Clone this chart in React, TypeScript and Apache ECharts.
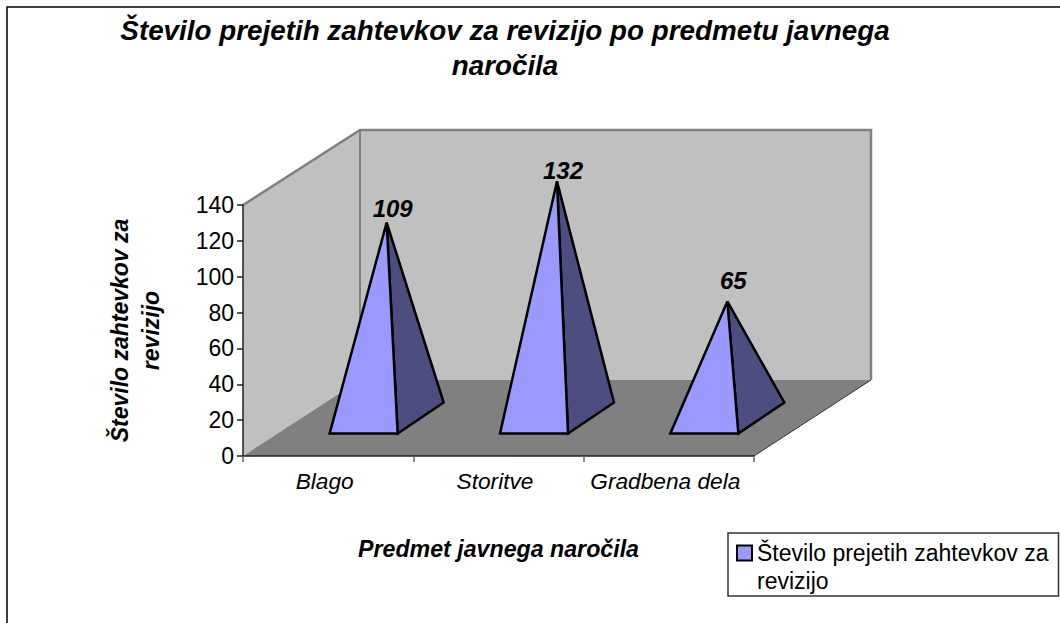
import React, { useEffect, useRef } from "react";
import * as echarts from "echarts";

const categories = ["Blago", "Storitve", "Gradbena dela"];
const requestCounts = [109, 132, 65];
const yTicks = [0, 140];
const titleText = "Število prejetih zahtevkov za revizijo po predmetu javnega\nnaročila";
const seriesName = "Število prejetih zahtevkov za\nrevizijo";
const yName = "Število zahtevkov za\nrevizijo";
const xName = "Predmet javnega naročila";

const FONT = "'Liberation Sans', Arial, sans-serif";
const DEPTH_X = 117;
const DEPTH_Y = 76;

function wallsItem(_p: any, api: any) {
  const o = api.coord([0, 0]);
  const band = api.size([1, 0])[0];
  const top = api.coord([0, yTicks[1]])[1];
  const x0 = o[0] - band / 2;
  const x1 = x0 + band * categories.length;
  const y0 = o[1];
  const y1 = top + 1;
  const dx = DEPTH_X;
  const dy = DEPTH_Y;
  const edge = { stroke: "#808080", lineWidth: 2.5, fill: "none" };
  return {
    type: "group",
    children: [
      { type: "polygon", shape: { points: [[x0 + dx, y1 - dy], [x1 + dx, y1 - dy], [x1 + dx, y0 - dy], [x0 + dx, y0 - dy]] }, style: { fill: "#c0c0c0" } },
      { type: "polygon", shape: { points: [[x0, y0], [x0, top], [x0 + dx, y1 - dy], [x0 + dx, y0 - dy]] }, style: { fill: "#c0c0c0" } },
      { type: "polygon", shape: { points: [[x0, y0], [x1, y0], [x1 + dx, y0 - dy], [x0 + dx, y0 - dy]] }, style: { fill: "#808080" } },
      { type: "polyline", shape: { points: [[x0, top], [x0 + dx, y1 - dy], [x1 + dx, y1 - dy], [x1 + dx, y0 - dy]] }, style: edge },
      { type: "line", shape: { x1: x0 + dx, y1: y1 - dy, x2: x0 + dx, y2: y0 - dy }, style: { stroke: "#808080", lineWidth: 2 } },
      { type: "line", shape: { x1: x1, y1: y0, x2: x1 + dx, y2: y0 - dy }, style: { stroke: "#333", lineWidth: 1 } },
    ],
  };
}

function pyramidItem(_p: any, api: any) {
  const idx = api.value(0);
  const v = api.value(1);
  const c0 = api.coord([idx, 0]);
  const cv = api.coord([idx, v]);
  const cx = c0[0] + DEPTH_X / 2;
  const cy = c0[1] - DEPTH_Y / 2;
  const apex = [cx, cv[1] - DEPTH_Y / 2];
  const fl = [cx - 57, cy + 15.5];
  const fr = [cx + 11, cy + 15.5];
  const br = [cx + 57, cy - 15.5];
  const outline = { stroke: "#000", lineWidth: 2.5, lineJoin: "miter" };
  return {
    type: "group",
    children: [
      { type: "polygon", shape: { points: [apex, fr, br] }, style: { fill: "#4d4d80", ...outline } },
      { type: "polygon", shape: { points: [apex, fl, fr] }, style: { fill: "#9999ff", ...outline } },
      {
        type: "text",
        x: apex[0] + 6,
        y: apex[1] - (30.5 - 0.15 * v),
        style: {
          text: String(v),
          fill: "#000",
          font: `italic bold 24px ${FONT}`,
          align: "center",
          verticalAlign: "middle",
        },
      },
    ],
  };
}

export default function App() {
  const ref = useRef<HTMLDivElement>(null);
  useEffect(() => {
    document.body.style.margin = "0";
    const chart = echarts.init(ref.current!, null, { renderer: "svg" });
    chart.setOption({
      animation: false,
      backgroundColor: "#fff",
      title: {
        text: titleText,
        left: 500,
        top: 8,
        textAlign: "center",
        textStyle: { fontFamily: FONT, fontStyle: "italic", fontWeight: "bold", fontSize: 27.8, lineHeight: 35, color: "#000" },
      },
      grid: { left: 243, right: 306, top: 205, bottom: 167 },
      xAxis: {
        type: "category",
        data: categories,
        z: 5,
        name: xName,
        nameLocation: "middle",
        nameGap: 81,
        nameTextStyle: { fontFamily: FONT, fontStyle: "italic", fontWeight: "bold", fontSize: 23.2, color: "#000" },
        axisLine: { lineStyle: { color: "#222", width: 1.5 } },
        axisTick: { show: true, length: 6, lineStyle: { color: "#666", width: 1.5 } },
        axisLabel: { fontFamily: FONT, fontStyle: "italic", fontSize: 22.7, color: "#000", margin: 13, padding: [0, 7, 0, 0], interval: 0 },
      },
      yAxis: {
        type: "value",
        min: 0,
        max: 140,
        interval: 20,
        z: 5,
        name: yName,
        nameLocation: "middle",
        nameGap: 77,
        nameRotate: 90,
        nameTextStyle: { fontFamily: FONT, fontStyle: "italic", fontWeight: "bold", fontSize: 23, lineHeight: 31, color: "#000" },
        axisLine: { show: true, lineStyle: { color: "#222", width: 1.5 } },
        axisTick: { show: true, length: 6, lineStyle: { color: "#222", width: 1.5 } },
        axisLabel: { fontFamily: FONT, fontSize: 23, color: "#000", margin: 9, padding: [2, 0, 0, 0] },
        splitLine: { show: false },
      },
      legend: {
        data: [seriesName],
        left: 728,
        top: 533,
        orient: "vertical",
        icon: "rect",
        itemWidth: 15,
        itemHeight: 15,
        itemGap: 0,
        itemStyle: { color: "#9999ff", borderColor: "#000", borderWidth: 2 },
        padding: [-22, 10, 1, 8],
        borderColor: "#333",
        borderWidth: 1.5,
        backgroundColor: "#fff",
        formatter: (name: string) => "\n" + name,
        textStyle: { fontFamily: FONT, fontSize: 23, lineHeight: 28, color: "#000" },
      },
      series: [
        { type: "custom", name: "walls", silent: true, clip: false, z: 1, renderItem: wallsItem, data: [[0, 0]], encode: { x: 0, y: 1 } },
        {
          type: "custom",
          name: seriesName,
          clip: false,
          z: 3,
          itemStyle: { color: "#9999ff" },
          renderItem: pyramidItem,
          data: requestCounts.map((v, i) => [i, v]),
          encode: { x: 0, y: 1 },
        },
      ],
      graphic: [
        {
          type: "polyline",
          z: 10,
          shape: { points: [[7, 623], [7, 7], [1060, 7]] },
          style: { stroke: "#000", lineWidth: 1.5, fill: "none" },
        },
      ],
    });
    return () => chart.dispose();
  }, []);
  return <div ref={ref} style={{ width: 1060, height: 623 }} />;
}
